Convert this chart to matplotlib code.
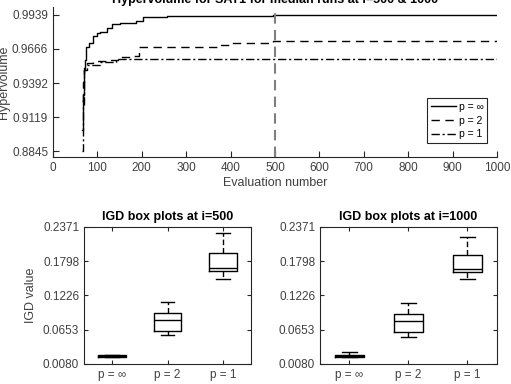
import matplotlib
matplotlib.use('Agg')
import matplotlib.pyplot as plt

plt.rcParams['font.family'] = ['Liberation Sans', 'DejaVu Sans']

# hypervolume traces for the median runs
evals_inf = [65, 67, 69, 72, 74, 80, 91, 98, 106, 121, 132, 151, 188, 203, 256, 376, 496, 520, 1000]
hv_inf = [0.902, 0.930, 0.950, 0.958, 0.968, 0.971, 0.9768, 0.979, 0.980, 0.983, 0.9864, 0.9875, 0.989, 0.9919, 0.9926, 0.9930, 0.9936, 0.9939, 0.9939]

evals_2 = [66, 68, 70, 76, 91, 128, 147, 181, 194, 376, 398, 496, 1000]
hv_2 = [0.925, 0.940, 0.951, 0.955, 0.9568, 0.9576, 0.960, 0.9605, 0.9682, 0.970, 0.9715, 0.973, 0.9733]

evals_1 = [65, 67, 70, 76, 106, 143, 1000]
hv_1 = [0.8845, 0.920, 0.9495, 0.9535, 0.956, 0.9588, 0.9589]

hv_ticks = [0.8845, 0.9119, 0.9392, 0.9666, 0.9939]
igd_ticks = [0.0080, 0.0653, 0.1226, 0.1798, 0.2371]
cases = ['p = \u221e', 'p = 2', 'p = 1']

# box plot stats: (whislo, q1, median, q3, whishi)
igd_500 = [(0.0197, 0.0205, 0.0215, 0.0225, 0.0235),
           (0.0568, 0.0624, 0.0818, 0.0929, 0.1112),
           (0.1506, 0.1628, 0.1678, 0.1938, 0.2277)]
igd_1000 = [(0.019, 0.0196, 0.0208, 0.0224, 0.028),
            (0.0535, 0.0607, 0.0796, 0.0912, 0.110),
            (0.1495, 0.1617, 0.1667, 0.191, 0.221)]

axis_col = '#262626'
txt_col = '#404040'

fig = plt.figure(figsize=(5.11, 3.84), dpi=100)

# top: hypervolume curves
ax = fig.add_axes([0.1037, 0.5911, 0.8689, 0.3906])
ax.plot(evals_inf, hv_inf, color='black', lw=1.0, drawstyle='steps-post', label=cases[0])
ax.plot(evals_2, hv_2, color='black', lw=1.0, ls=(0, (6, 4)), drawstyle='steps-post', label=cases[1])
ax.plot(evals_1, hv_1, color='black', lw=1.0, ls=(0, (6, 2, 1.5, 2)), drawstyle='steps-post', label=cases[2])
ax.axvline(500, color='#7f7f7f', lw=1.5, ls=(0, (5, 3)))
ax.set_xlim(0, 1000)
ax.set_ylim(0.88, 1.0)
ax.set_yticks(hv_ticks)
ax.set_yticklabels(['%.4f' % v for v in hv_ticks])
ax.set_xticks(range(0, 1001, 100))
ax.spines['top'].set_visible(False)
ax.spines['right'].set_visible(False)
for s in ('left', 'bottom'):
    ax.spines[s].set_color(axis_col)
ax.tick_params(direction='in', length=4, labelsize=8.5, colors=axis_col, labelcolor=txt_col)
ax.set_xlabel('Evaluation number', fontsize=9, color=txt_col, labelpad=2)
ax.set_ylabel('Hypervolume', fontsize=9, color=txt_col, labelpad=1)
ax.set_title('Hypervolume for SAT1 for median runs at i=500 & 1000', fontsize=9,
             fontweight='bold', pad=3)
leg = ax.legend(loc='lower right', fontsize=7.5, handlelength=2.4, fancybox=False,
                edgecolor=axis_col, framealpha=1, borderpad=0.35, labelspacing=0.35,
                handletextpad=0.3, bbox_to_anchor=(0.99, 0.06))
leg.get_frame().set_linewidth(0.8)


def draw_box(ax, data, title, ylabel=None):
    stats = []
    for lo, q1, med, q3, hi in data:
        stats.append({'whislo': lo, 'q1': q1, 'med': med, 'q3': q3, 'whishi': hi, 'fliers': []})
    ax.bxp(stats, positions=[1, 2, 3], widths=0.5, showfliers=False,
           boxprops=dict(color='black', lw=1.0),
           medianprops=dict(color='black', lw=1.0),
           whiskerprops=dict(color='black', lw=1.0, ls=(0, (4, 2))),
           capprops=dict(color='black', lw=1.0), capwidths=0.25)
    ax.set_xlim(0.5, 3.5)
    ax.set_ylim(igd_ticks[0], igd_ticks[-1])
    ax.set_yticks(igd_ticks)
    ax.set_yticklabels(['%.4f' % v for v in igd_ticks])
    ax.set_xticks([1, 2, 3])
    ax.set_xticklabels(cases)
    for s in ax.spines.values():
        s.set_color(axis_col)
    ax.tick_params(direction='in', length=3, labelsize=8.5, colors=axis_col,
                   labelcolor=txt_col, top=True, right=True)
    ax.set_title(title, fontsize=9, fontweight='bold', pad=5)
    if ylabel:
        ax.set_ylabel(ylabel, fontsize=9, color=txt_col, labelpad=4)


ax2 = fig.add_axes([0.1644, 0.0521, 0.3268, 0.3568])
draw_box(ax2, igd_500, 'IGD box plots at i=500', 'IGD value')
ax3 = fig.add_axes([0.6262, 0.0521, 0.3464, 0.3568])
draw_box(ax3, igd_1000, 'IGD box plots at i=1000')

fig.savefig('out.png', dpi=100)
